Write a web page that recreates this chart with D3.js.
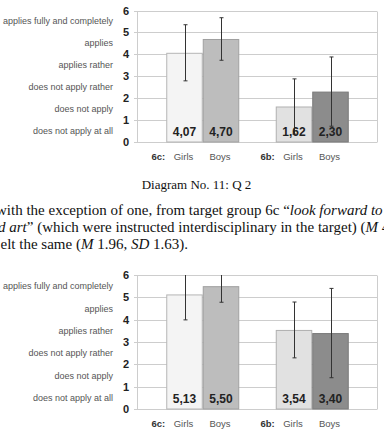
<!DOCTYPE html>
<html>
<head>
<meta charset="utf-8">
<script src="https://cdn.jsdelivr.net/npm/d3@7"></script>
<style>
  html, body { margin: 0; padding: 0; background: #fff; }
  svg { display: block; }
</style>
</head>
<body>
<script>
// ---------- data ----------
const groups = ["6c", "6b"];
const genders = ["Girls", "Boys"];
const yTicks = [0, 1, 2, 3, 4, 5, 6];
const levelLabels = [
  "does not apply at all",
  "does not apply",
  "does not apply rather",
  "applies rather",
  "applies",
  "applies fully and completely"
];
// chart 1 (Q 2): order 6c Girls, 6c Boys, 6b Girls, 6b Boys
const q2Means = [4.07, 4.70, 1.62, 2.30];
const q2SD    = [1.28, 0.97, 1.26, 1.58];
// chart 2
const q3Means = [5.13, 5.50, 3.54, 3.40];
const q3SD    = [1.14, 0.72, 1.25, 2.00];
const valueLabels1 = ["4,07", "4,70", "1,62", "2,30"];
const valueLabels2 = ["5,13", "5,50", "3,54", "3,40"];
const caption = "Diagram No. 11: Q 2";
const textLines = [
  [["with the exception of one, from target group 6c \u201c", false], ["look forward to", true]],
  [["d art", true], ["\u201d (which were instructed interdisciplinary in the target) (", false], ["M", true], [" 4", false]],
  [["elt the same (", false], ["M", true], [" 1.96, ", false], ["SD", true], [" 1.63).", false]]
];

// ---------- styles ----------
const barFills   = ["#f4f4f4", "#bdbdbd", "#e1e1e1", "#8c8c8c"];
const barStrokes = ["#b5b5b5", "#a0a0a0", "#b0b0b0", "#7a7a7a"];
const sansFont = "'Liberation Sans', Arial, sans-serif";
const serifFont = "'Liberation Serif', 'Times New Roman', serif";

const W = 384, H = 444;
const svg = d3.select("body").append("svg")
  .attr("width", W).attr("height", H)
  .style("background", "#fff");

let clipId = 0;
function drawChart(means, sds, labels, yBottom, yTop) {
  const g = svg.append("g");
  const y = d3.scaleLinear().domain([0, 6]).range([yBottom, yTop]);
  const x = d3.scaleBand().domain(groups).range([148, 367]);
  const xi = d3.scaleBand().domain(genders).range([0, x.bandwidth()])
    .paddingInner(0).paddingOuter(0.5);
  const plotL = 137, plotR = 377;

  // grid lines (with tick stubs to the left of the axis)
  g.selectAll("line.grid").data(yTicks).join("line")
    .attr("x1", plotL - 3).attr("x2", plotR)
    .attr("y1", d => Math.round(y(d)) + 0.5).attr("y2", d => Math.round(y(d)) + 0.5)
    .attr("stroke", "#cdcdcd").attr("stroke-width", 1);
  // left axis and right border
  [plotL, plotR].forEach(px => {
    g.append("line")
      .attr("x1", px + 0.5).attr("x2", px + 0.5)
      .attr("y1", Math.round(y(0)) + 0.5).attr("y2", Math.round(y(6)) + 0.5)
      .attr("stroke", "#cdcdcd");
  });

  // tick labels
  g.selectAll("text.tick").data(yTicks).join("text")
    .attr("x", 129).attr("y", d => y(d) + 4)
    .attr("text-anchor", "end")
    .attr("font-family", sansFont).attr("font-size", 11).attr("font-weight", "bold")
    .attr("fill", "#222").text(d => d);

  // level labels between ticks
  g.selectAll("text.level").data(levelLabels).join("text")
    .attr("x", 113).attr("y", (d, i) => y(i + 0.5) + 3)
    .attr("text-anchor", "end")
    .attr("font-family", sansFont).attr("font-size", 9)
    .attr("fill", "#555").text(d => d);

  const items = [];
  groups.forEach((gr, gi) => genders.forEach((ge, ei) => {
    const k = gi * 2 + ei;
    items.push({ gr, ge, k, v: means[k], sd: sds[k], label: labels[k] });
  }));
  const bx = d => x(d.gr) + xi(d.ge);

  // bars
  g.selectAll("rect.bar").data(items).join("rect")
    .attr("x", d => bx(d) + 0.5).attr("width", xi.bandwidth() - 1)
    .attr("y", d => y(d.v) + 0.5).attr("height", d => y(0) - y(d.v) - 0.5)
    .attr("fill", d => barFills[d.k]).attr("stroke", d => barStrokes[d.k]);

  // error bars (clipped to plot area)
  const cid = "clip" + (clipId++);
  svg.append("clipPath").attr("id", cid).append("rect")
    .attr("x", plotL).attr("y", y(6)).attr("width", plotR - plotL).attr("height", y(0) - y(6));
  const eg = g.append("g").attr("clip-path", `url(#${cid})`);
  items.forEach(d => {
    const cx = Math.round(bx(d) + xi.bandwidth() / 2) + 0.5;
    const hi = y(d.v + d.sd), lo = y(Math.max(0, d.v - d.sd));
    eg.append("line").attr("x1", cx).attr("x2", cx).attr("y1", hi).attr("y2", lo)
      .attr("stroke", "#333").attr("stroke-width", 1);
    [hi, lo].forEach(yy => eg.append("line")
      .attr("x1", cx - 2).attr("x2", cx + 2).attr("y1", yy).attr("y2", yy)
      .attr("stroke", "#333").attr("stroke-width", 1));
  });

  // value labels
  g.selectAll("text.val").data(items).join("text")
    .attr("x", d => bx(d) + xi.bandwidth() / 2).attr("y", y(0) - 6)
    .attr("text-anchor", "middle")
    .attr("font-family", sansFont).attr("font-size", 12).attr("font-weight", "bold")
    .attr("fill", "#222").text(d => d.label);

  // x labels
  const xlY = y(0) + 18;
  groups.forEach(gr => {
    g.append("text").attr("x", x(gr) + xi(genders[0]) - 1).attr("y", xlY)
      .attr("text-anchor", "end")
      .attr("font-family", sansFont).attr("font-size", 9.5).attr("font-weight", "bold")
      .attr("fill", "#333").text(gr + ":");
    genders.forEach(ge => {
      g.append("text").attr("x", x(gr) + xi(ge) + xi.bandwidth() / 2 - 1).attr("y", xlY)
        .attr("text-anchor", "middle")
        .attr("font-family", sansFont).attr("font-size", 9.5)
        .attr("fill", "#555").text(ge);
    });
  });
}

drawChart(q2Means, q2SD, valueLabels1, 142, 10.5);
drawChart(q3Means, q3SD, valueLabels2, 409, 275);

// caption
svg.append("text").attr("x", 196.5).attr("y", 189)
  .attr("text-anchor", "middle")
  .attr("font-family", serifFont).attr("font-size", 13)
  .attr("fill", "#111").text(caption);

// paragraph lines
const lineX = [-4, -2, 0.5];
const lineY = [215, 232, 249];
textLines.forEach((parts, i) => {
  const t = svg.append("text").attr("x", lineX[i]).attr("y", lineY[i])
    .attr("font-family", serifFont).attr("font-size", 15).attr("fill", "#111")
    .attr("xml:space", "preserve").style("white-space", "pre");
  parts.forEach(([s, it]) => t.append("tspan").attr("font-style", it ? "italic" : "normal").text(s));
});
</script>
</body>
</html>
